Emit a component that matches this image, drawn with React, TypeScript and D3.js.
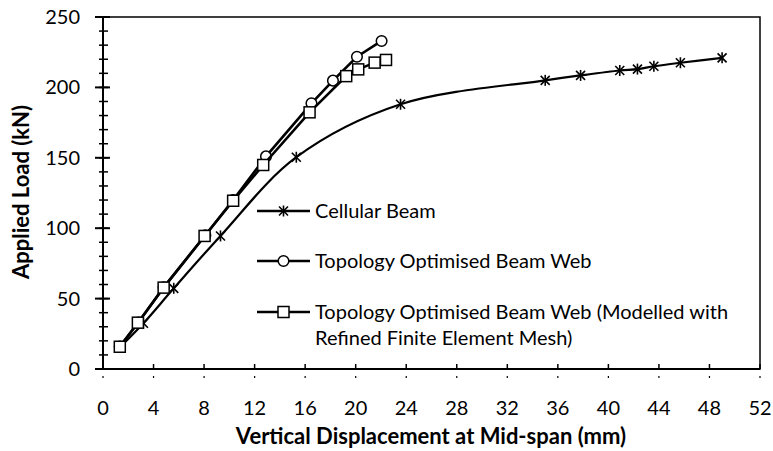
import React from "react";
import { scaleLinear, line, curveCatmullRom, curveLinear, range } from "d3";

// Vertical displacement at mid-span (mm) / applied load (kN)
const cellularX = [1.4, 3.2, 5.6, 9.3, 15.3, 23.55, 35.0, 37.8, 40.9, 42.3, 43.6, 45.7, 49.0];
const cellularY = [16, 32.5, 57.3, 94.5, 150.4, 188, 205, 208.5, 212, 213, 215, 217.5, 221];

const topoX = [1.33, 2.8, 4.8, 8.1, 10.3, 12.9, 16.5, 18.2, 20.1, 22.05];
const topoY = [16, 33, 58, 95, 120, 151, 188.7, 204.8, 221.8, 233];

const refinedX = [1.33, 2.76, 4.8, 8.04, 10.3, 12.68, 16.35, 19.25, 20.2, 21.5, 22.4];
const refinedY = [15.8, 32.9, 57.8, 94.5, 119.5, 144.9, 182.3, 208, 212.8, 217.6, 219.5];

const xTicks = range(0, 53, 4);
const yTicks = range(0, 251, 50);
const yMinor = range(0, 251, 10);

const legendLabels = [
  ["Cellular Beam"],
  ["Topology Optimised Beam Web"],
  ["Topology Optimised Beam Web (Modelled with", "Refined Finite Element Mesh)"],
];

const W = 773;
const H = 451;
const left = 103;
const right = 760;
const top = 17;
const bottom = 369;
const font = "Lato, 'Open Sans', sans-serif";

const x = scaleLinear().domain([0, 52]).range([left, right]);
const y = scaleLinear().domain([0, 250]).range([bottom, top]);

const toPts = (xs: number[], ys: number[]) => xs.map((v, i) => [v, ys[i]] as [number, number]);

const Marker = ({ kind, cx, cy }: { kind: string; cx: number; cy: number }) => {
  if (kind === "circle")
    return <circle cx={cx} cy={cy} r={5.3} fill="#fff" stroke="#000" strokeWidth={1.5} />;
  if (kind === "square")
    return <rect x={cx - 5.5} y={cy - 5.5} width={11} height={11} fill="#fff" stroke="#000" strokeWidth={1.5} />;
  const s = 4.5;
  return (
    <g stroke="#000" strokeWidth={1.6}>
      <line x1={cx - s} y1={cy - s} x2={cx + s} y2={cy + s} />
      <line x1={cx - s} y1={cy + s} x2={cx + s} y2={cy - s} />
      <line x1={cx} y1={cy - s - 1} x2={cx} y2={cy + s + 1} />
    </g>
  );
};

export default function App() {
  const series = [
    { pts: toPts(cellularX, cellularY), kind: "star", curve: curveCatmullRom, sw: 2.2 },
    { pts: toPts(topoX, topoY), kind: "circle", curve: curveLinear, sw: 2.6 },
    { pts: toPts(refinedX, refinedY), kind: "square", curve: curveLinear, sw: 2.6 },
  ];
  const legendY = [211, 261, 312];

  return (
    <svg width={W} height={H} style={{ position: "absolute", left: 0, top: 0, background: "#fff" }}>
      {/* plot frame */}
      <rect x={left} y={top} width={right - left} height={bottom - top} fill="none" stroke="#000" strokeWidth={1.5} />

      {/* y axis */}
      <line x1={left} y1={top} x2={left} y2={bottom} stroke="#000" strokeWidth={2} />
      {yMinor.map((t) => (
        <line key={"m" + t} x1={left - 4} x2={left + 5} y1={y(t)} y2={y(t)} stroke="#000" strokeWidth={1.5} />
      ))}
      {yTicks.map((t) => (
        <g key={t}>
          <line x1={left - 8} x2={left + 7} y1={y(t)} y2={y(t)} stroke="#000" strokeWidth={2} />
          <text x={80} y={y(t)} dy="0.35em" textAnchor="end" fontFamily={font} fontSize={20}>
            {t}
          </text>
        </g>
      ))}

      {/* x axis */}
      <line x1={left} y1={bottom} x2={right} y2={bottom} stroke="#000" strokeWidth={2} />
      {xTicks.map((t) => (
        <g key={t}>
          <line x1={x(t)} x2={x(t)} y1={bottom} y2={bottom - 5} stroke="#000" strokeWidth={1.5} />
          <line x1={x(t)} x2={x(t)} y1={bottom + 7} y2={bottom + 9} stroke="#000" strokeWidth={1.2} />
          <text x={x(t)} y={408} dy="0.35em" textAnchor="middle" fontFamily={font} fontSize={20}>
            {t}
          </text>
        </g>
      ))}

      {/* series */}
      {series.map((s, i) => (
        <g key={i}>
          <path
            d={line().x((d) => x(d[0])).y((d) => y(d[1])).curve(s.curve)(s.pts) || ""}
            fill="none"
            stroke="#000"
            strokeWidth={s.sw}
          />
          {s.pts.map((p, j) => (
            <Marker key={j} kind={s.kind} cx={x(p[0])} cy={y(p[1])} />
          ))}
        </g>
      ))}

      {/* legend */}
      {series.map((s, i) => (
        <g key={"l" + i}>
          <line x1={257} x2={310} y1={legendY[i]} y2={legendY[i]} stroke="#000" strokeWidth={2.6} />
          <Marker kind={s.kind} cx={283.5} cy={legendY[i]} />
          {legendLabels[i].map((txt, k) => (
            <text key={k} x={315} y={legendY[i] + k * 26} dy="0.35em" fontFamily={font} fontSize={20}>
              {txt}
            </text>
          ))}
        </g>
      ))}

      {/* axis titles */}
      <text x={431} y={436} dy="0.35em" textAnchor="middle" fontFamily={font} fontSize={22} fontWeight="bold">
        Vertical Displacement at Mid-span (mm)
      </text>
      <text
        transform={`translate(21,192) rotate(-90)`}
        dy="0.35em"
        textAnchor="middle"
        fontFamily={font}
        fontSize={22}
        fontWeight="bold"
      >
        Applied Load (kN)
      </text>
    </svg>
  );
}
